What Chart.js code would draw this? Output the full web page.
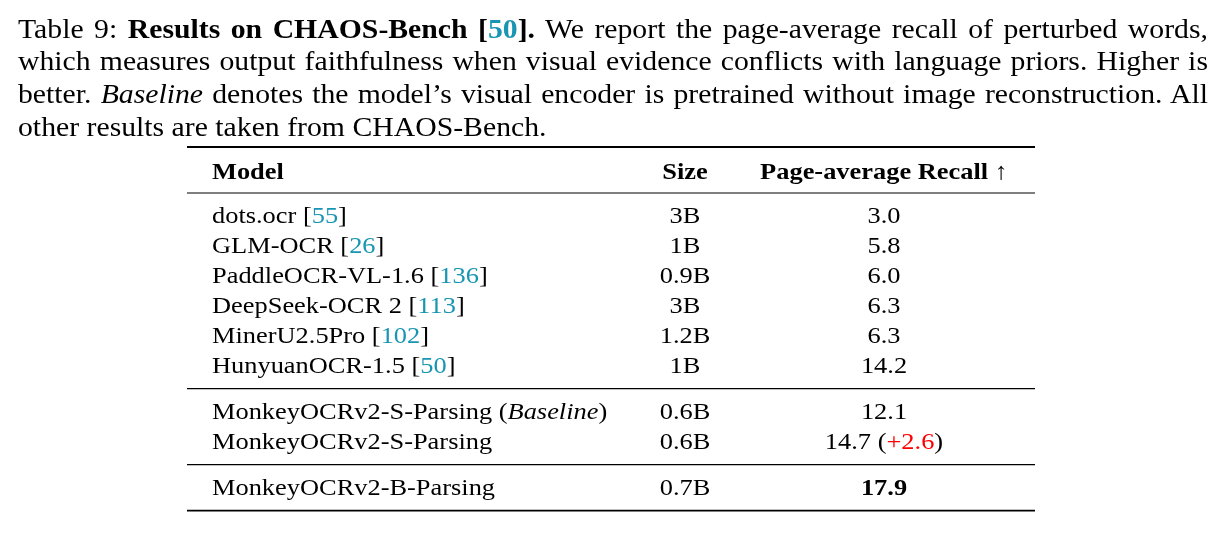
<!DOCTYPE html>
<html>
<head>
<meta charset="utf-8">
<script src="https://cdn.jsdelivr.net/npm/chart.js@4.4.1/dist/chart.umd.min.js"></script>
<style>
  html, body { margin: 0; padding: 0; background: #fff; }
  #wrap { position: relative; width: 1224px; height: 533px; overflow: hidden; }
  #caption {
    position: absolute; left: 18px; top: 12.7px; width: 1120.5px;
    transform: scaleX(1.062); transform-origin: 0 0;
    font-family: "Liberation Serif", "Times New Roman", serif;
    font-size: 28px; line-height: 32.8px; color: #000; z-index: 2;
  }
  #caption .ln { white-space: nowrap; text-align: justify; text-align-last: justify; }
  #caption .ln.last { text-align-last: left; }
  #caption .cite { color: #1895b2; }
  #table { position: absolute; left: 0; top: 0; z-index: 1; }
</style>
</head>
<body>
<div id="wrap">
  <div id="caption">
    <div class="ln">Table 9: <b>Results on CHAOS-Bench [<span class="cite">50</span>].</b> We report the page-average recall of perturbed words,</div>
    <div class="ln">which measures output faithfulness when visual evidence conflicts with language priors. Higher is</div>
    <div class="ln">better. <i>Baseline</i> denotes the model’s visual encoder is pretrained without image reconstruction. All</div>
    <div class="ln last">other results are taken from CHAOS-Bench.</div>
  </div>
  <canvas id="table" width="1224" height="533"></canvas>
</div>
<script>
// table contents
const headers = ['Model', 'Size', 'Page-average Recall ↑'];
const models = ['dots.ocr', 'GLM-OCR', 'PaddleOCR-VL-1.6', 'DeepSeek-OCR 2', 'MinerU2.5Pro',
                'HunyuanOCR-1.5', 'MonkeyOCRv2-S-Parsing', 'MonkeyOCRv2-S-Parsing', 'MonkeyOCRv2-B-Parsing'];
const refs = ['55', '26', '136', '113', '102', '50', null, null, null];
const notes = [null, null, null, null, null, null, 'Baseline', null, null];
const sizes = ['3B', '1B', '0.9B', '3B', '1.2B', '1B', '0.6B', '0.6B', '0.7B'];
const recall = [3.0, 5.8, 6.0, 6.3, 6.3, 14.2, 12.1, 14.7, 17.9];
const gains = [null, null, null, null, null, null, null, 2.6, null];
const groups = [6, 2, 1];

// layout (pixels / row units)
const FONT = '"Liberation Serif", "Times New Roman", serif';
const ROW = 30;
const STRETCH = 1.1;
const tableLeft = 187, tableRight = 1035;
const colX = [212, 685, 884];
const colAlign = ['left', 'center', 'center'];
const headerY = 179;

// row positions in row units, header = 0
const rowPos = [];
const rules = [{ y: -32 / ROW, w: 1.8 }, { y: 14 / ROW, w: 1.1 }];
let pos = 44 / ROW;
groups.forEach((n, g) => {
    for (let i = 0; i < n; i++) {
        rowPos.push(pos);
        if (i < n - 1) pos += 1;
    }
    const last = g === groups.length - 1;
    rules.push({ y: pos + 15.6 / ROW, w: last ? 1.8 : 1.1 });
    pos += 46 / ROW;
});

const bestIdx = recall.indexOf(Math.max(...recall));
const cite = '#1895b2';

function cellSegments(col, i) {
    if (i < 0) return [{ t: headers[col], b: true }];
    if (col === 0) {
        const s = [{ t: models[i] }];
        if (refs[i]) s.push({ t: ' [' }, { t: refs[i], c: cite }, { t: ']' });
        if (notes[i]) s.push({ t: ' (' }, { t: notes[i], it: true }, { t: ')' });
        return s;
    }
    if (col === 1) return [{ t: sizes[i] }];
    const s = [{ t: recall[i].toFixed(1), b: i === bestIdx }];
    if (gains[i] != null) s.push({ t: ' (' }, { t: '+' + gains[i].toFixed(1), c: '#f00' }, { t: ')' });
    return s;
}

function fontOf(seg) {
    return (seg.it ? 'italic ' : '') + (seg.b ? 'bold ' : '') + '24px ' + FONT;
}

const cellText = {
    id: 'cellText',
    afterDatasetsDraw(chart) {
        const ctx = chart.ctx;
        const yScale = chart.scales.y;
        ctx.save();
        // rules
        ctx.strokeStyle = '#000';
        rules.forEach(r => {
            const py = yScale.getPixelForValue(r.y);
            ctx.lineWidth = r.w;
            ctx.beginPath();
            ctx.moveTo(tableLeft, py);
            ctx.lineTo(tableRight, py);
            ctx.stroke();
        });
        // cells
        ctx.textBaseline = 'alphabetic';
        ctx.textAlign = 'left';
        chart.data.datasets.forEach((ds, col) => {
            const meta = chart.getDatasetMeta(col);
            meta.data.forEach((pt, k) => {
                const segs = cellSegments(col, k - 1);
                let total = 0;
                segs.forEach(s => { ctx.font = fontOf(s); s.w = ctx.measureText(s.t).width * STRETCH; total += s.w; });
                let x = colAlign[col] === 'left' ? pt.x : pt.x - total / 2;
                segs.forEach(s => {
                    ctx.font = fontOf(s);
                    ctx.fillStyle = s.c || '#000';
                    ctx.save();
                    ctx.translate(x, pt.y);
                    ctx.scale(STRETCH, 1);
                    ctx.fillText(s.t, 0, 0);
                    ctx.restore();
                    x += s.w;
                });
            });
        });
        ctx.restore();
    }
};

const datasets = headers.map((h, col) => ({
    label: h,
    data: [{ x: colX[col], y: 0 }].concat(rowPos.map(y => ({ x: colX[col], y: y }))),
    pointRadius: 0,
    showLine: false
}));

new Chart(document.getElementById('table').getContext('2d'), {
    type: 'scatter',
    data: { datasets: datasets },
    options: {
        responsive: false,
        animation: false,
        layout: { padding: 0 },
        plugins: { legend: { display: false }, tooltip: { enabled: false } },
        scales: {
            x: { type: 'linear', display: false, min: 0, max: 1224 },
            y: { type: 'linear', display: false, reverse: true,
                 min: -headerY / ROW, max: (533 - headerY) / ROW }
        }
    },
    plugins: [cellText]
});
</script>
</body>
</html>
